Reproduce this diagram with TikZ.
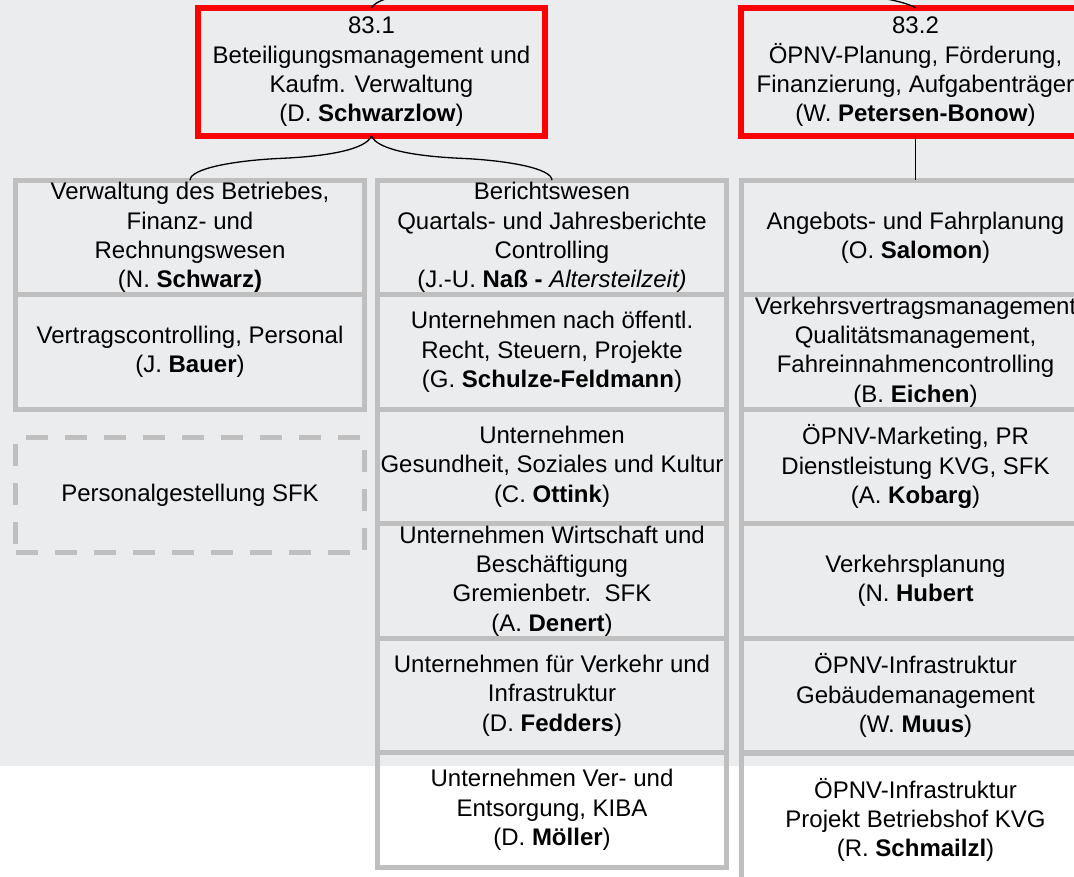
\documentclass[tikz,border=0pt]{standalone}
\usepackage{fontspec}
\setmainfont{Liberation Sans}
\usetikzlibrary{calc}
\definecolor{paneBg}{RGB}{235,236,238}
\definecolor{unitGray}{RGB}{191,191,191}

\begin{document}
\begin{tikzpicture}[
  x = 1pt, y = -1pt,
  every node/.style={font=\fontsize{24}{29.3}\selectfont, align=center, inner sep=0pt},
  lead/.style={draw=red, line width=6pt, minimum width=347pt, minimum height=128pt},
  unit/.style={draw=unitGray, line width=5pt, minimum width=349pt, minimum height=114.5pt},
  spare/.style={unit, dash pattern=on 22pt off 17pt},
  link/.style={draw=black, line width=1.3pt}
]
    \clip (0, 0) rectangle (1074, 876);

    % Background
    \fill[paneBg] (0, 0) rectangle (1074, 766);
    \fill[white] (0, 766) rectangle (1074, 876);

    % Heads
    \node (beteiligung) at (371.5, 72) [lead] {83.1\\Beteiligungsmanagement und\\Kaufm. Verwaltung\\(D. \textbf{Schwarzlow})};
    \node (planung) at (915.5, 72) [lead, minimum width=349pt] {83.2\\ÖPNV-Planung, Förderung,\\Finanzierung, Aufgabenträger\\(W. \textbf{Petersen-Bonow})};

    % Column 1
    \node (verwaltung) at (190, 237.5) [unit] {Verwaltung des Betriebes,\\Finanz- und\\Rechnungswesen\\(N. \textbf{Schwarz)}};
    \node (vertrag) at (190, 352) [unit] {Vertragscontrolling, Personal\\(J. \textbf{Bauer})};
    \node (gestellung) at (190, 495) [spare] {Personalgestellung SFK};

    % Column 2
    \node (berichte) at (552, 237.5) [unit] {Berichtswesen\\Quartals- und Jahresberichte\\Controlling\\(J.-U. \textbf{Naß -} \textit{Altersteilzeit)}};
    \node (recht) at (552, 352) [unit] {Unternehmen nach öffentl.\\Recht, Steuern, Projekte\\(G. \textbf{Schulze-Feldmann})};
    \node (soziales) at (552, 466.5) [unit] {Unternehmen\\Gesundheit, Soziales und Kultur\\(C. \textbf{Ottink})};
    \node (wirtschaft) at (552, 581) [unit] {Unternehmen Wirtschaft und\\Beschäftigung\\Gremienbetr.\ \ SFK\\(A. \textbf{Denert})};
    \node (verkehr) at (552, 695.5) [unit] {Unternehmen für Verkehr und\\Infrastruktur\\(D. \textbf{Fedders})};
    \node (entsorgung) at (552, 810) [unit] {Unternehmen Ver- und\\Entsorgung, KIBA\\(D. \textbf{Möller})};

    % Column 3
    \node (angebot) at (915.5, 237.5) [unit] {Angebots- und Fahrplanung\\(O. \textbf{Salomon})};
    \node (qualitaet) at (915.5, 352) [unit] {Verkehrsvertragsmanagement\\Qualitätsmanagement,\\Fahreinnahmencontrolling\\(B. \textbf{Eichen})};
    \node (marketing) at (915.5, 466.5) [unit] {ÖPNV-Marketing, PR\\Dienstleistung KVG, SFK\\(A. \textbf{Kobarg})};
    \node (verkehrsplan) at (915.5, 581) [unit] {Verkehrsplanung\\(N. \textbf{Hubert}};
    \node (gebaeude) at (915.5, 695.5) [unit] {ÖPNV-Infrastruktur\\Gebäudemanagement\\(W. \textbf{Muus})};
    \node (betriebshof) at (915.5, 820) [unit, minimum height=133pt] {ÖPNV-Infrastruktur\\Projekt Betriebshof KVG\\(R. \textbf{Schmailzl})};

    % Connectors
    \coordinate (upleft) at (400, -4);
    \coordinate (upright) at (855, -4);
    \coordinate (bracemid) at ($(beteiligung.south)!0.5!(verwaltung.north)$);
    \coordinate (bracemid2) at ($(beteiligung.south)!0.5!(berichte.north)$);
    \draw[link] ([yshift=3pt]beteiligung.south) .. controls +(-6,14) and +(45,-2) .. (bracemid)
      .. controls +(-45,2) and +(0,-12) .. ([yshift=-2.5pt]verwaltung.north);
    \draw[link] ([yshift=3pt]beteiligung.south) .. controls +(6,14) and +(-45,-2) .. (bracemid2)
      .. controls +(45,2) and +(0,-12) .. ([yshift=-2.5pt]berichte.north);
    \draw[link] ([yshift=3pt]planung.south) -- ([yshift=-2.5pt]angebot.north);
    \draw[link] ([yshift=-3pt]beteiligung.north) .. controls +(3,-6) and +(-12,1) .. (upleft);
    \draw[link] ([yshift=-3pt]planung.north) .. controls +(-6,-5) and +(20,-1) .. (upright);
\end{tikzpicture}
\end{document}
